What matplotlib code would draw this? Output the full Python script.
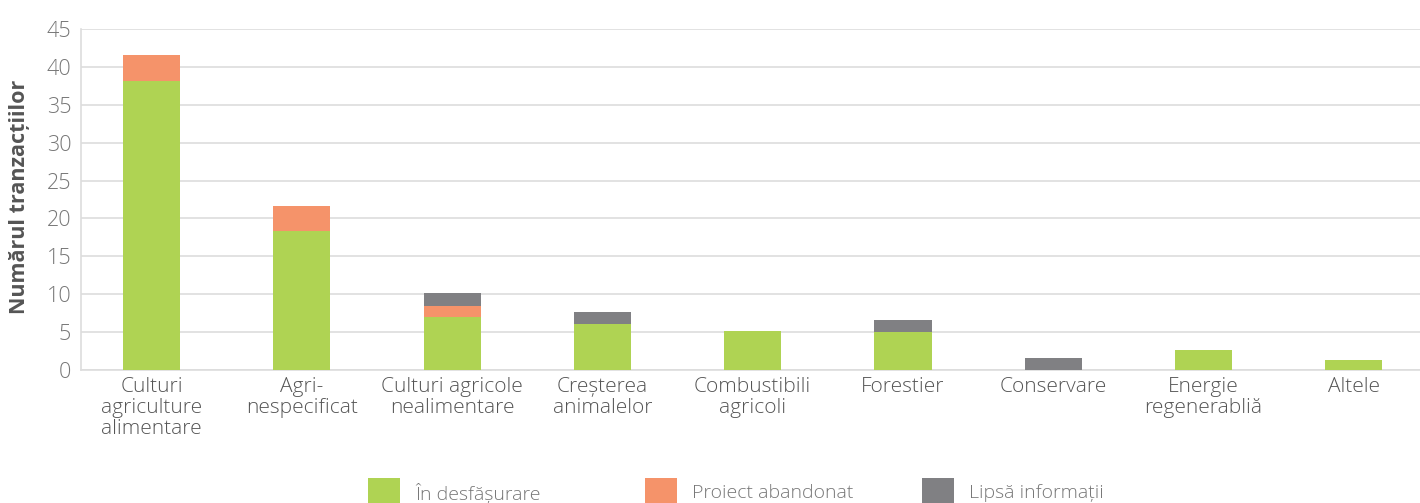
import numpy as np
import matplotlib.pyplot as plt
from matplotlib.patches import Rectangle

plt.rcParams['font.family'] = ['Open Sans', 'DejaVu Sans']

categorii = ['Culturi\nagriculture\nalimentare', 'Agri-\nnespecificat', 'Culturi agricole\nnealimentare',
             'Creșterea\nanimalelor', 'Combustibili\nagricoli', 'Forestier', 'Conservare',
             'Energie\nregenerabliă', 'Altele']
in_desfasurare = [38.1, 18.3, 7.0, 6.1, 5.2, 5.0, 0.0, 2.6, 1.3]
abandonat = [3.4, 3.4, 1.5, 0.0, 0.0, 0.0, 0.0, 0.0, 0.0]
lipsa_info = [0.0, 0.0, 1.6, 1.6, 0.0, 1.6, 1.6, 0.0, 0.0]
serii = ['În desfășurare', 'Proiect abandonat', 'Lipsă informații']
culori = ['#AFD353', '#F5936A', '#808083']

fig = plt.figure(figsize=(14.2, 5.03), dpi=100)
ax = fig.add_axes([0.057, 0.2644, 0.943, 0.678])

x = np.arange(len(categorii))
w = 0.38
b1 = np.array(in_desfasurare)
b2 = b1 + np.array(abandonat)
ax.bar(x, in_desfasurare, w, color=culori[0], zorder=3)
ax.bar(x, abandonat, w, bottom=b1, color=culori[1], zorder=3)
ax.bar(x, lipsa_info, w, bottom=b2, color=culori[2], zorder=3)

ax.set_ylim(0, 45)
ax.set_xlim(-0.47, 8.44)
ax.set_yticks(range(0, 46, 5))
ax.set_xticks(x)
ax.set_xticklabels(categorii, fontsize=15, color='#555555', linespacing=1.08)
ax.tick_params(axis='y', labelsize=15.5, labelcolor='#777777', length=0, pad=7)
ax.tick_params(axis='x', length=0, pad=5)
for lbl in ax.get_yticklabels():
    lbl.set_fontweight('light')
for lbl in ax.get_xticklabels():
    lbl.set_fontweight('light')
ax.grid(axis='y', color='#DDDDDD', linewidth=1.2, zorder=0)
for s in ['top', 'right']:
    ax.spines[s].set_visible(False)
ax.spines['left'].set_color('#DDDDDD')
ax.spines['bottom'].set_color('#DDDDDD')
ax.spines['left'].set_linewidth(1.2)
ax.spines['bottom'].set_linewidth(1.2)

fig.text(0.0135, 0.608, 'Numărul tranzacțiilor', rotation=90, ha='center', va='center',
         fontsize=15.5, fontweight='bold', color='#555555')

# legenda desenata manual
W, H = 1420, 503
leg_x = [368, 645, 922]
for lx, c, s in zip(leg_x, culori, serii):
    fig.add_artist(Rectangle((lx / W, 1 - 503 / H), 32 / W, 25 / H,
                             transform=fig.transFigure, facecolor=c, edgecolor='none'))
    fig.text((lx + 47) / W, 1 - 493 / H, s, ha='left', va='center', fontsize=14,
             color='#777777', fontweight='light')

fig.savefig('out.png', dpi=100)
